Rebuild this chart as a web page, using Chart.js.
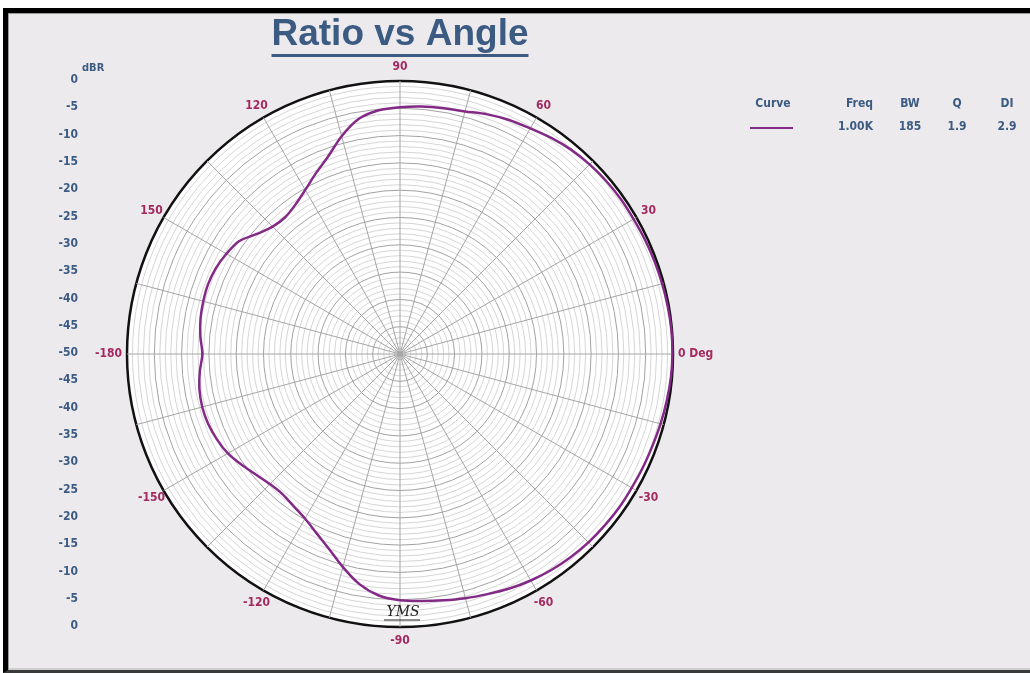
<!DOCTYPE html>
<html>
<head>
<meta charset="utf-8">
<script src="https://cdn.jsdelivr.net/npm/chart.js@4.4.0/dist/chart.umd.min.js"></script>
<style>
  html, body { margin: 0; padding: 0; background: #fff; }
  body { width: 1030px; height: 673px; position: relative; overflow: hidden; }
  #frame {
    position: absolute; left: 3px; top: 8px; right: 0; bottom: 0;
    background: #edeaee;
    border-top: 5px solid #000;
    border-left: 5px solid #000;
    border-bottom: 3px solid #3a3a3a;
    box-shadow: inset 1px 1px 0 #9a9a9a, inset 0 -2px 0 #d0d0d0;
  }
  #chart { position: absolute; left: 0; top: 0; }
</style>
</head>
<body>
<div id="frame"></div>
<canvas id="chart" width="1030" height="673"></canvas>
<script>
// angles in drawing order (clockwise from 0 deg, the way the radar scale walks)
const angleLabels = [
  0, -5, -10, -15, -20, -25, -30, -35, -40, -45, -50, -55,
  -60, -65, -70, -75, -80, -85, -90, -95, -100, -105, -110, -115,
  -120, -125, -130, -135, -140, -145, -150, -155, -160, -165, -170, -175,
  180, 175, 170, 165, 160, 155, 150, 145, 140, 135, 130, 125,
  120, 115, 110, 105, 100, 95, 90, 85, 80, 75, 70, 65,
  60, 55, 50, 45, 40, 35, 30, 25, 20, 15, 10, 5,
];
// dBR, same order as angleLabels
const ratioDb = [
  -0.1, -0.2, -0.4, -0.6, -0.8, -0.9, -1.0, -1.0, -1.1, -1.2, -1.4, -1.7,
  -2.1, -2.6, -3.2, -3.7, -4.2, -4.6, -4.9, -5.6, -7.2, -9.6, -12.0, -13.8,
  -15.2, -16.0, -16.5, -16.3, -15.6, -14.6, -13.6, -13.0, -12.6, -12.5, -12.7, -13.2,
  -13.8, -13.3, -12.9, -12.7, -12.6, -12.8, -13.3, -14.0, -15.8, -17.0, -17.3, -16.6,
  -15.3, -13.5, -11.5, -8.7, -6.3, -5.2, -4.8, -4.5, -4.3, -4.0, -3.3, -2.7,
  -2.3, -1.7, -1.2, -0.9, -0.7, -0.6, -0.6, -0.5, -0.4, -0.3, -0.2, -0.1,
];
const dbrTicks = [0, -5, -10, -15, -20, -25, -30, -35, -40, -45, -50];
const legendHeads = ["Curve", "Freq", "BW", "Q", "DI"];
const legendRow = ["1.00K", "185", "1.9", "2.9"];

const narrow = "'Liberation Sans Narrow', 'DejaVu Sans Condensed', 'Liberation Sans', sans-serif";
const slate = "#3b5b82";
const rose = "#a3295f";
const curveColor = "#832a86";

const decorations = {
  id: "decorations",
  afterDraw(chart) {
    const ctx = chart.ctx;
    const r = chart.scales.r;
    const cx = r.xCenter;
    const cy = r.yCenter;
    const R = r.drawingArea;
    ctx.save();

    // title underline
    const t = chart.titleBlock;
    ctx.font = "bold 37px 'Liberation Sans', Arial, sans-serif";
    const w = ctx.measureText(chart.options.plugins.title.text).width;
    ctx.fillStyle = slate;
    ctx.fillRect((t.left + t.right) / 2 - w / 2, 54, w, 3);

    // angle labels, every 30 deg
    ctx.font = "bold 12px " + narrow;
    ctx.fillStyle = rose;
    ctx.textBaseline = "middle";
    angleLabels.forEach((a, i) => {
      if (a % 30 !== 0) return;
      let text = String(a);
      let align = "center";
      let p = r.getPointPosition(i, R + 14);
      if (a === 0) {
        text = "0 Deg";
        align = "left";
        p = r.getPointPosition(i, R + 5);
      } else if (a === 180) {
        text = "-180";
        align = "right";
        p = r.getPointPosition(i, R + 5);
      }
      ctx.textAlign = align;
      ctx.fillText(text, p.x, p.y);
    });

    // dBR column on the left, mirrored about the centre
    ctx.fillStyle = slate;
    ctx.textAlign = "right";
    dbrTicks.forEach((v) => {
      const d = r.getDistanceFromCenterForValue(v);
      ctx.fillText(String(v), 78, cy - d - 1);
      if (d > 0) ctx.fillText(String(v), 78, cy + d - 1);
    });
    ctx.textAlign = "left";
    ctx.font = "bold 11px " + narrow;
    ctx.fillText("dBR", 82, cy - R - 13);

    // legend table
    const cols = [
      { x: 773, align: "center" },
      { x: 873, align: "right" },
      { x: 910, align: "center" },
      { x: 957, align: "center" },
      { x: 1007, align: "center" },
    ];
    ctx.font = "bold 12px " + narrow;
    legendHeads.forEach((h, i) => {
      ctx.textAlign = cols[i].align;
      ctx.fillText(h, cols[i].x, 104);
    });
    legendRow.forEach((v, i) => {
      ctx.textAlign = cols[i + 1].align;
      ctx.fillText(v, cols[i + 1].x, 127);
    });
    ctx.strokeStyle = curveColor;
    ctx.lineWidth = 2;
    ctx.beginPath();
    ctx.moveTo(750, 128);
    ctx.lineTo(793, 128);
    ctx.stroke();

    // handwritten initials near the bottom
    ctx.font = "italic 14px 'DejaVu Serif', serif";
    ctx.fillStyle = "#222";
    ctx.textAlign = "center";
    ctx.fillText("YMS", cx + 3, cy + R - 15);
    ctx.lineWidth = 1;
    ctx.strokeStyle = "#222";
    ctx.beginPath();
    ctx.moveTo(cx - 16, cy + R - 7);
    ctx.lineTo(cx + 20, cy + R - 7);
    ctx.stroke();

    ctx.restore();
  },
};

new Chart(document.getElementById("chart"), {
  type: "radar",
  data: {
    labels: angleLabels,
    datasets: [
      {
        label: "1.00K",
        data: ratioDb,
        borderColor: curveColor,
        borderWidth: 2.5,
        pointRadius: 0,
        fill: false,
        tension: 0.3,
        clip: false,
      },
    ],
  },
  options: {
    responsive: false,
    animation: false,
    layout: {
      padding: { left: 127, right: 357, top: 0, bottom: 46 },
    },
    plugins: {
      legend: { display: false },
      tooltip: { enabled: false },
      title: {
        display: true,
        text: "Ratio vs Angle",
        color: slate,
        font: { family: "'Liberation Sans', Arial, sans-serif", size: 37, weight: "bold", lineHeight: 1 },
        padding: { top: 16, bottom: 28 },
      },
    },
    scales: {
      r: {
        min: -50,
        max: 0,
        startAngle: 90,
        backgroundColor: "#fff",
        ticks: { display: false, stepSize: 1 },
        pointLabels: { display: false },
        grid: {
          circular: true,
          color: (c) => {
            const v = c.tick ? c.tick.value : 1;
            if (v === 0) return "#111";
            return v % 5 === 0 ? "#a2a2a2" : "#d6d6d6";
          },
          lineWidth: (c) => (c.tick && c.tick.value === 0 ? 2.5 : 1),
        },
        angleLines: {
          color: "#a6a6a6",
          lineWidth: (c) => (angleLabels[c.index] % 15 === 0 ? 1 : 0),
        },
      },
    },
  },
  plugins: [decorations],
});
</script>
</body>
</html>
